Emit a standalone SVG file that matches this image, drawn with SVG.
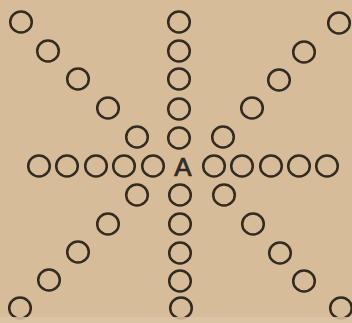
<svg xmlns="http://www.w3.org/2000/svg" width="352" height="323" viewBox="0 0 352 323">
<style>
.c{fill:none;stroke:#322b22;stroke-width:2.5}
.t{font-family:"Liberation Sans",Arial,sans-serif;font-size:26px;fill:#322b22;stroke:#322b22;stroke-width:0.7;text-anchor:middle}
</style>
<defs>
<ellipse id="o" class="c" cx="0" cy="0" rx="10.8" ry="10.5"/>
</defs>
<rect width="352" height="323" fill="#d6bc99"/>
<g id="center"><text class="t" x="183" y="176">A</text></g>
<g id="vertical-up">
<use href="#o" x="179" y="22"/><use href="#o" x="179" y="51"/><use href="#o" x="179" y="79"/><use href="#o" x="179" y="109"/><use href="#o" x="179" y="138"/>
</g>
<g id="vertical-down">
<use href="#o" x="180" y="195"/><use href="#o" x="180" y="224"/><use href="#o" x="180" y="253"/><use href="#o" x="180" y="281"/><use href="#o" x="181" y="308"/>
</g>
<g id="horizontal-left">
<use href="#o" x="39" y="166"/><use href="#o" x="67" y="166"/><use href="#o" x="96" y="166"/><use href="#o" x="124" y="166"/><use href="#o" x="153" y="166"/>
</g>
<g id="horizontal-right">
<use href="#o" x="214" y="166"/><use href="#o" x="242" y="166"/><use href="#o" x="271" y="166"/><use href="#o" x="299" y="166"/><use href="#o" x="327" y="166"/>
</g>
<g id="diag-up-left">
<use href="#o" x="21" y="22"/><use href="#o" x="48" y="51"/><use href="#o" x="78" y="79"/><use href="#o" x="108" y="108"/><use href="#o" x="137" y="137"/>
</g>
<g id="diag-up-right">
<use href="#o" x="339" y="23"/><use href="#o" x="304" y="52"/><use href="#o" x="279" y="80"/><use href="#o" x="252" y="108"/><use href="#o" x="223" y="137"/>
</g>
<g id="diag-down-left">
<use href="#o" x="137" y="195"/><use href="#o" x="108" y="224"/><use href="#o" x="78" y="252"/><use href="#o" x="49" y="280"/><use href="#o" x="20" y="308"/>
</g>
<g id="diag-down-right">
<use href="#o" x="224" y="195"/><use href="#o" x="253" y="224"/><use href="#o" x="280" y="253"/><use href="#o" x="304" y="281"/><use href="#o" x="341" y="308"/>
</g>
<rect x="0" y="317" width="352" height="6" fill="#dcc6a6" opacity="0.85"/>
</svg>
